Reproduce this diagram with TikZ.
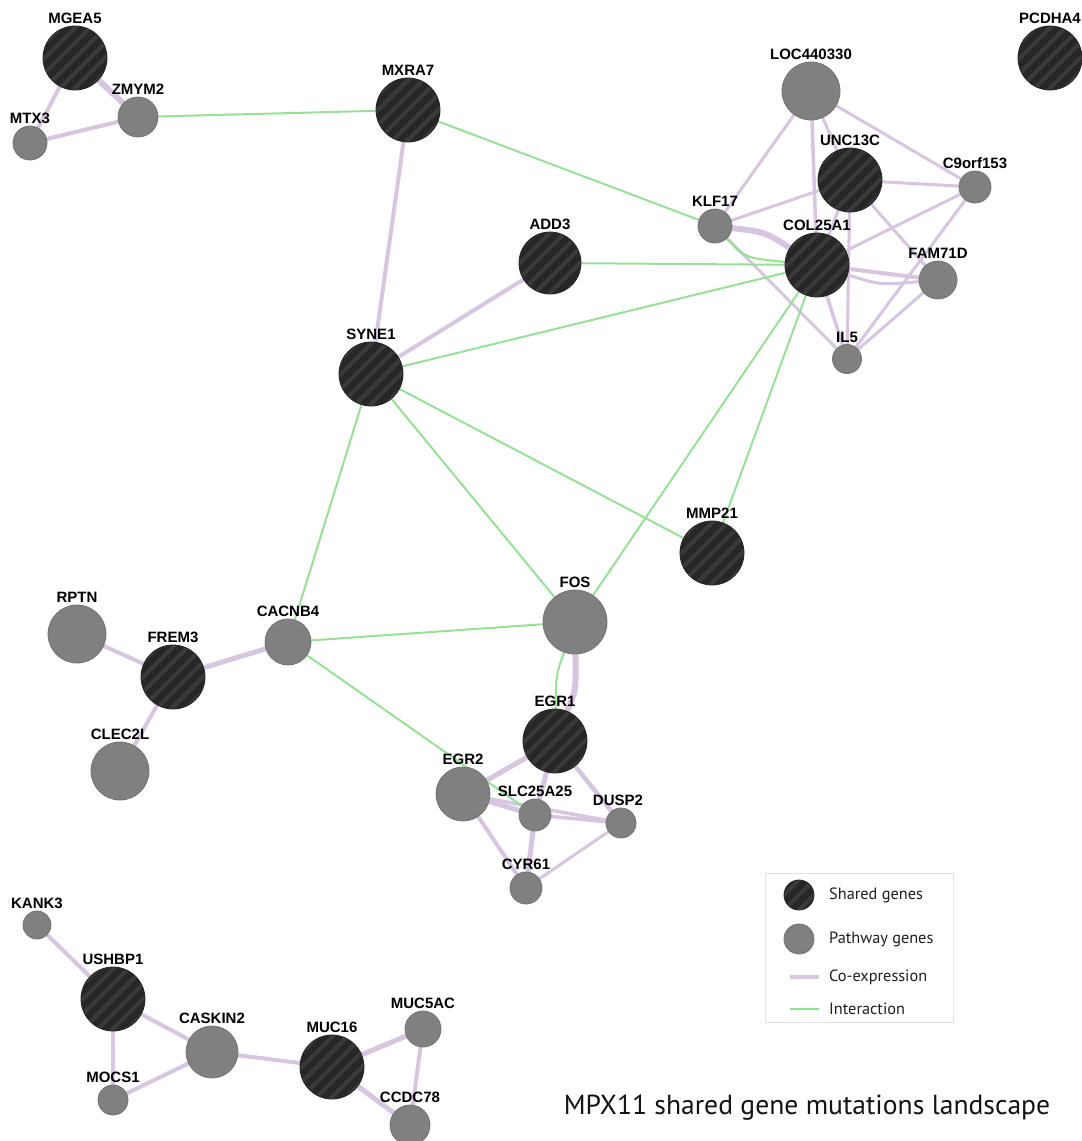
\documentclass[tikz,border=0pt]{standalone}
\usepackage{fontspec}
\setmainfont{Liberation Sans}
\newfontfamily\legfont{PT Sans}
\definecolor{shdark}{HTML}{272727}
\definecolor{shstripe}{HTML}{3A3A3A}
\definecolor{pwgray}{HTML}{808080}
\definecolor{pwborder}{HTML}{737373}
\definecolor{coexpc}{HTML}{D6C6E0}
\definecolor{interg}{HTML}{98E098}
\definecolor{legbox}{HTML}{E2E2E2}
\pgfdeclarelayer{bgfill}
\pgfdeclarelayer{edges}
\pgfsetlayers{bgfill,edges,main}
\tikzset{
 gnode/.style={circle, inner sep=0pt, line width=0.8pt},
 shared/.style={gnode, fill=shdark, draw=shdark, minimum size=#1,
   path picture={\foreach \k in {-5,...,5}{\draw[shstripe, line width=4pt]
     ([xshift=\k*15pt-45pt, yshift=-45pt]path picture bounding box.center) -- ++(90pt,90pt);}}},
 pathway/.style={gnode, fill=pwgray, draw=pwborder, minimum size=#1},
 lbl/.style={font=\bfseries\fontsize{15}{15}\selectfont, inner sep=1.5pt},
 coex/.style={draw=coexpc, line width=#1, line cap=round},
 inter/.style={draw=interg, line width=2pt},
 legtext/.style={font=\legfont\fontsize{16.3}{17}\selectfont, text=black!88, anchor=west, inner sep=0pt},
}
\begin{document}
\begin{tikzpicture}[x=1pt,y=-1pt]
\begin{pgfonlayer}{bgfill}
\fill[white] (0,0) rectangle (1082,1141);
\end{pgfonlayer}
\useasboundingbox (0,0) rectangle (1082,1141);

% nodes
\node[shared=64, label={[lbl]above:MGEA5}] (MGEA5) at (75,58) {};
\node[pathway=40, label={[lbl]above:ZMYM2}] (ZMYM2) at (138,117) {};
\node[pathway=34, label={[lbl]above:MTX3}] (MTX3) at (30,143) {};
\node[shared=64, label={[lbl]above:MXRA7}] (MXRA7) at (408,110) {};
\node[shared=64, label={[lbl]above:PCDHA4}] (PCDHA4) at (1050,58) {};
\node[pathway=58, label={[lbl]above:LOC440330}] (LOC) at (811,91) {};
\node[shared=64, label={[lbl]above:UNC13C}] (UNC13C) at (850,180) {};
\node[pathway=32, label={[lbl]above:C9orf153}] (C9) at (975,187) {};
\node[pathway=34, label={[lbl]above:KLF17}] (KLF17) at (715,226) {};
\node[shared=64, label={[lbl]above:COL25A1}] (COL) at (817,265) {};
\node[shared=62, label={[lbl]above:ADD3}] (ADD3) at (550,263) {};
\node[pathway=38, label={[lbl]above:FAM71D}] (FAM) at (938,280) {};
\node[pathway=29, label={[lbl]above:IL5}] (IL5) at (847,359) {};
\node[shared=64, label={[lbl]above:SYNE1}] (SYNE1) at (371,374) {};
\node[shared=64, label={[lbl]above:MMP21}] (MMP21) at (712,553) {};
\node[pathway=64, label={[lbl]above:FOS}] (FOS) at (575,622) {};
\node[pathway=58, label={[lbl]above:RPTN}] (RPTN) at (77,634) {};
\node[shared=64, label={[lbl]above:FREM3}] (FREM3) at (173,677) {};
\node[pathway=46, label={[lbl]above:CACNB4}] (CACNB4) at (288,642) {};
\node[pathway=58, label={[lbl]above:CLEC2L}] (CLEC2L) at (120,771) {};
\node[shared=64, label={[lbl]above:EGR1}] (EGR1) at (555,741) {};
\node[pathway=54, label={[lbl]above:EGR2}] (EGR2) at (463,794) {};
\node[pathway=32, label={[lbl]above:SLC25A25}] (SLC) at (535,815) {};
\node[pathway=30, label={[lbl,xshift=-3pt]above:DUSP2}] (DUSP2) at (621,823) {};
\node[pathway=32, label={[lbl]above:CYR61}] (CYR61) at (526,888) {};
\node[pathway=28, label={[lbl]above:KANK3}] (KANK3) at (37,925) {};
\node[shared=64, label={[lbl]above:USHBP1}] (USHBP1) at (113,999) {};
\node[pathway=52, label={[lbl]above:CASKIN2}] (CASKIN2) at (212,1052) {};
\node[pathway=30, label={[lbl]above:MOCS1}] (MOCS1) at (113,1100) {};
\node[shared=64, label={[lbl]above:MUC16}] (MUC16) at (332,1067) {};
\node[pathway=36, label={[lbl]above:MUC5AC}] (MUC5AC) at (423,1029) {};
\node[pathway=40, label={[lbl]above:CCDC78}] (CCDC78) at (410,1125) {};

\begin{pgfonlayer}{edges}
% co-expression
\draw[coex=6] (MGEA5) -- (ZMYM2);
\draw[coex=4] (MGEA5) -- (MTX3);
\draw[coex=4] (MTX3) -- (ZMYM2);
\draw[coex=4] (MXRA7) -- (SYNE1);
\draw[coex=4] (SYNE1) -- (ADD3);
\draw[coex=3] (LOC) -- (KLF17);
\draw[coex=3.5] (LOC) -- (COL);
\draw[coex=3] (LOC) -- (UNC13C);
\draw[coex=3] (LOC) -- (C9);
\draw[coex=3] (UNC13C) -- (C9);
\draw[coex=3] (UNC13C) -- (KLF17);
\draw[coex=3] (UNC13C) -- (COL);
\draw[coex=3] (UNC13C) -- (FAM);
\draw[coex=3] (UNC13C) -- (IL5);
\draw[coex=3] (C9) -- (COL);
\draw[coex=3] (C9) -- (IL5);
\draw[coex=6] (KLF17) .. controls (765,232) .. (COL);
\draw[coex=3] (KLF17) -- (IL5);
\draw[coex=4] (COL) -- (FAM);
\draw[coex=3] (COL) .. controls (880,285) .. (FAM);
\draw[coex=3.5] (COL) -- (IL5);
\draw[coex=3] (FAM) -- (IL5);
\draw[coex=6] (FOS) .. controls (576,690) .. (EGR1);
\draw[coex=5] (EGR1) -- (EGR2);
\draw[coex=5] (EGR1) -- (SLC);
\draw[coex=4.5] (EGR1) -- (DUSP2);
\draw[coex=5] (EGR2) -- (SLC);
\draw[coex=3.5] (EGR2) -- (DUSP2);
\draw[coex=3.5] (SLC) -- (DUSP2);
\draw[coex=5] (SLC) -- (CYR61);
\draw[coex=4] (EGR2) -- (CYR61);
\draw[coex=3] (CYR61) -- (DUSP2);
\draw[coex=4] (RPTN) -- (FREM3);
\draw[coex=5] (FREM3) -- (CACNB4);
\draw[coex=4] (FREM3) -- (CLEC2L);
\draw[coex=4] (KANK3) -- (USHBP1);
\draw[coex=4] (USHBP1) -- (CASKIN2);
\draw[coex=4] (USHBP1) -- (MOCS1);
\draw[coex=4] (MOCS1) -- (CASKIN2);
\draw[coex=4] (CASKIN2) -- (MUC16);
\draw[coex=5] (MUC16) -- (MUC5AC);
\draw[coex=5] (MUC16) -- (CCDC78);
\draw[coex=4] (MUC5AC) -- (CCDC78);
% interaction
\draw[inter] (ZMYM2) -- (MXRA7);
\draw[inter] (MXRA7) -- (KLF17);
\draw[inter] (KLF17) .. controls (745,258) .. (COL);
\draw[inter] (ADD3) -- (COL);
\draw[inter] (SYNE1) -- (COL);
\draw[inter] (SYNE1) -- (CACNB4);
\draw[inter] (SYNE1) -- (FOS);
\draw[inter] (SYNE1) -- (MMP21);
\draw[inter] (COL) -- (FOS);
\draw[inter] (COL) -- (MMP21);
\draw[inter] (CACNB4) -- (FOS);
\draw[inter] (CACNB4) -- (SLC);
\draw[inter] (FOS) .. controls (556,675) .. (EGR1);
\end{pgfonlayer}

% legend
\node[draw=legbox, line width=1pt, minimum width=188, minimum height=149, anchor=north west, inner sep=0pt] (legend) at (765,873) {};
\node[shared=30] (lgs) at (799,895) {};
\node[pathway=30] (lgp) at (799,939) {};
\coordinate (lc1) at (790,977);
\coordinate (lc2) at (819,977);
\coordinate (li1) at (790,1009);
\coordinate (li2) at (819,1009);
\draw[draw=coexpc, line width=4pt] (lc1) -- (lc2);
\draw[inter] (li1) -- (li2);
\node[legtext] (t1) at (829,895) {Shared genes};
\node[legtext] (t2) at (829,939) {Pathway genes};
\node[legtext] (t3) at (829,977) {Co-expression};
\node[legtext] (t4) at (829,1009) {Interaction};

% title
\node[font=\legfont\fontsize{27.6}{28}\selectfont, anchor=base, inner sep=0pt, text=black!92] (title) at (807,1114) {MPX11 shared gene mutations landscape};
\end{tikzpicture}
\end{document}
